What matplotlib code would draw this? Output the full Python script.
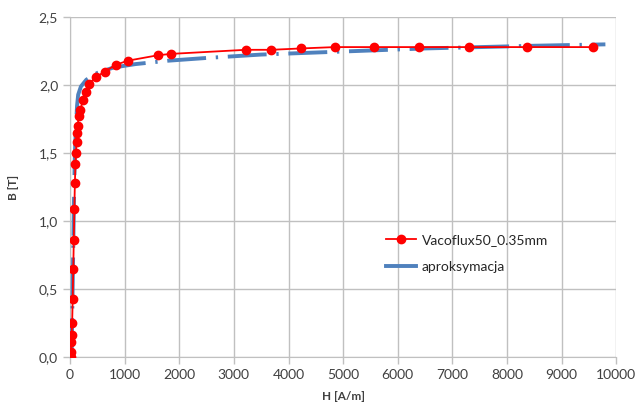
import matplotlib.pyplot as plt
from matplotlib.ticker import MultipleLocator, FuncFormatter
from matplotlib.lines import Line2D

# measured B-H points (Vacoflux50 0.35 mm)
H_meas = [15, 20, 25, 30, 40, 50, 60, 70, 80, 90, 100, 110, 120, 130, 140,
          160, 190, 240, 290, 350, 475, 640, 840, 1060, 1610, 1850,
          3220, 3680, 4230, 4850, 5570, 6390, 7310, 8370, 9580]
B_meas = [0.00, 0.04, 0.11, 0.16, 0.25, 0.43, 0.65, 0.86, 1.09, 1.28, 1.42,
          1.50, 1.58, 1.65, 1.70, 1.77, 1.82, 1.89, 1.95, 2.01, 2.06, 2.10,
          2.15, 2.18, 2.22, 2.23, 2.26, 2.26, 2.27, 2.28, 2.28, 2.28, 2.28,
          2.28, 2.28]

# approximation curve
H_appr = [30, 45, 60, 75, 90, 110, 130, 150, 200, 300, 500, 800, 1200,
          1800, 2500, 3500, 4500, 5500, 6500, 7500, 8500, 9800]
B_appr = [0.0, 0.4, 0.8, 1.2, 1.5, 1.7, 1.85, 1.93, 1.99, 2.04, 2.09, 2.13,
          2.155, 2.18, 2.20, 2.225, 2.24, 2.255, 2.27, 2.28, 2.29, 2.30]

plt.rcParams['font.family'] = ['Lato', 'DejaVu Sans']

fig = plt.figure(figsize=(6.39, 4.09), dpi=100)
ax = fig.add_axes([0.1095, 0.127, 0.855, 0.831])

grid_c = '#c0c0c0'
ax.plot(H_appr, B_appr, color='#4f81bd', lw=2.8,
        linestyle=(0, (10, 2.5, 0.6, 2.5)), solid_capstyle='butt',
        label='aproksymacja', zorder=3)
ax.plot(H_meas, B_meas, color='#ff0000', lw=1.3, marker='o', ms=6,
        label='Vacoflux50_0.35mm', zorder=4)

ax.set_xlim(0, 10000)
ax.set_ylim(0, 2.5)
ax.xaxis.set_major_locator(MultipleLocator(1000))
ax.yaxis.set_major_locator(MultipleLocator(0.5))
ax.yaxis.set_major_formatter(FuncFormatter(lambda v, p: f'{v:.1f}'.replace('.', ',')))
ax.grid(True, color=grid_c, lw=1)
ax.set_axisbelow(True)
for s in ['top', 'right']:
    ax.spines[s].set_visible(False)
for s in ['left', 'bottom']:
    ax.spines[s].set_color(grid_c)
ax.tick_params(colors=grid_c, labelcolor='#404040', labelsize=10, length=5,
               width=1)

ax.set_xlabel('H [A/m]', fontsize=8.5, fontweight='bold', color='#404040',
              labelpad=7)
ax.set_ylabel('B [T]', fontsize=8.5, fontweight='bold', color='#404040',
              labelpad=14)

h, l = ax.get_legend_handles_labels()
h_blue = Line2D([], [], color='#4f81bd', lw=2.8)
leg = ax.legend([h[1], h_blue], [l[1], l[0]], loc='upper left',
                bbox_to_anchor=(0.555, 0.4), frameon=False, fontsize=10,
                labelspacing=1.1, handlelength=2.2, handletextpad=0.4)
for t in leg.get_texts():
    t.set_color('#262626')

fig.savefig('out.png', dpi=100)
